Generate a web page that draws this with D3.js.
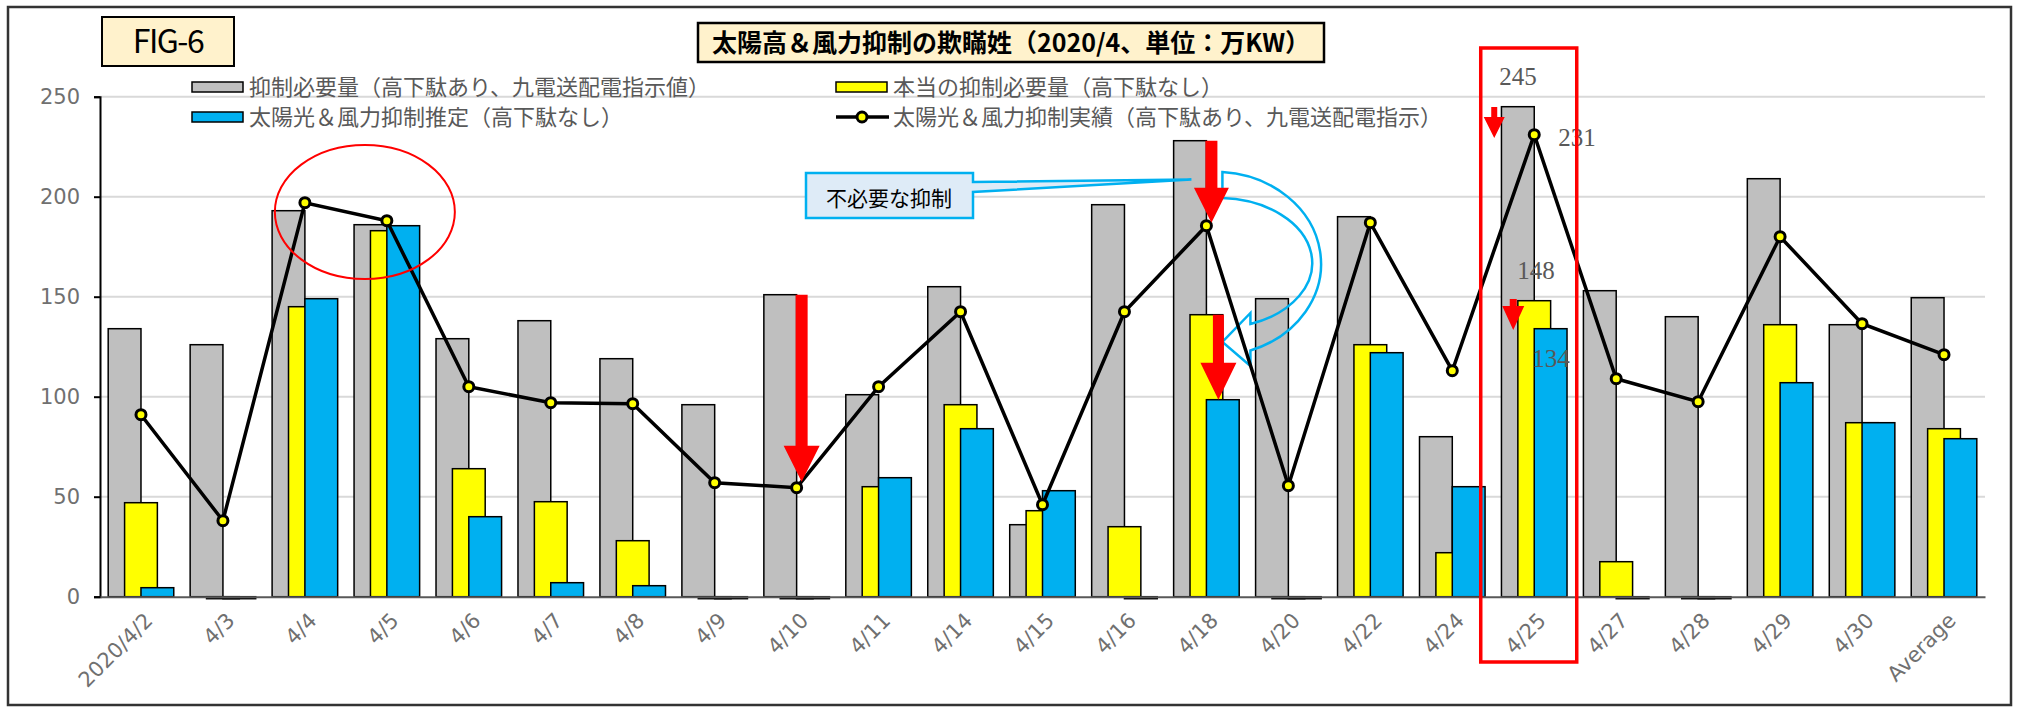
<!DOCTYPE html>
<html><head><meta charset="utf-8">
<script src="https://cdn.jsdelivr.net/npm/d3@7"></script>
<style>html,body{margin:0;padding:0;background:#fff;}svg{display:block;}</style>
</head><body>
<svg id="chart" width="2017" height="708"></svg>
<script>
const categories = ["2020/4/2","4/3","4/4","4/5","4/6","4/7","4/8","4/9","4/10","4/11","4/14","4/15","4/16","4/18","4/20","4/22","4/24","4/25","4/27","4/28","4/29","4/30","Average"];
const grayValues   = [134,126,193,186,129,138,119,96,151,101,155,36,196,228,149,190,80,245,153,140,209,136,149.5];
const yellowValues = [47,-1,145,183,64,47.5,28,-1,-1,55,96,43,35,141,-1,126,22,148,17.5,-1,136,87,84];
const blueValues   = [4.5,-1,149,185.5,40,7,5.5,-1,-1,59.5,84,53,-1,98.5,-1,122,55,134,-1,-1,107,87,79];
const lineValues   = [91,38,197,188,105,97,96.5,57,54.5,105,142.5,46,142.5,185.5,55.5,187,113,231,109,97.5,180,136.5,121];
const yTicks = [0,50,100,150,200,250];
const seriesNames = ["抑制必要量（高下駄あり、九電送配電指示値）","本当の抑制必要量（高下駄なし）","太陽光＆風力抑制推定（高下駄なし）","太陽光＆風力抑制実績（高下駄あり、九電送配電指示）"];
const titleText = "太陽高＆風力抑制の欺瞞姓（2020/4、単位：万KW）";
const figLabel = "FIG-6";
const calloutText = "不必要な抑制";
const valueNotes = [{cat:"4/25", text:"245"},{cat:"4/25", text:"231"},{cat:"4/25", text:"148"},{cat:"4/25", text:"134"}];

const svg = d3.select("#chart");
const jp = "'Noto Sans CJK JP','Noto Sans',sans-serif";
const axisFont = "'DejaVu Sans','Liberation Sans',sans-serif";

// outer border
svg.append("rect").attr("x",8).attr("y",7).attr("width",2003).attr("height",698)
  .attr("fill","#fff").attr("stroke","#333").attr("stroke-width",2.5);

const x = d3.scaleBand().domain(categories).range([100,1985]).paddingInner(0).paddingOuter(0);
const y = d3.scaleLinear().domain([0,250]).range([596.7,96.7]);
const step = x.step();
const bw = step*0.4;
const cx = c => x(c) + step/2;

// gridlines
svg.append("g").selectAll("line").data(yTicks.filter(d=>d>0)).join("line")
  .attr("x1",100).attr("x2",1985).attr("y1",d=>y(d)).attr("y2",d=>y(d))
  .attr("stroke","#D9D9D9").attr("stroke-width",2);

// y axis
const yAxis = d3.axisLeft(y).tickValues(yTicks).tickSize(6).tickPadding(14);
const gy = svg.append("g").attr("transform","translate(100,0)").call(yAxis);
gy.select(".domain").attr("stroke","#000").attr("stroke-width",2);
gy.selectAll(".tick line").attr("stroke","#000").attr("stroke-width",2);
gy.selectAll(".tick text").attr("font-family",axisFont).attr("font-size",21).attr("fill","#707070");

// bars
const bars = svg.append("g");
function drawBars(vals, off, fill){
  bars.append("g").selectAll("rect").data(categories.map((c,i)=>({c,v:vals[i]}))).join("rect")
    .attr("x",d=>cx(d.c)+off*bw).attr("width",bw)
    .attr("y",d=>Math.min(y(d.v),y(0))).attr("height",d=>Math.abs(y(d.v)-y(0)))
    .attr("fill",fill).attr("stroke","#000").attr("stroke-width",1.5);
}
drawBars(grayValues,-1,"#BFBFBF");
drawBars(yellowValues,-0.5,"#FFFF00");
drawBars(blueValues,0,"#00B0F0");

// x axis
const xAxis = d3.axisBottom(x).tickSize(0).tickPadding(10);
const gx = svg.append("g").attr("transform",`translate(0,${y(0)})`).call(xAxis);
gx.select(".domain").attr("stroke","#595959").attr("stroke-width",2);
gx.selectAll(".tick text").attr("font-family",axisFont).attr("font-size",21).attr("fill","#707070")
  .attr("text-anchor","end").attr("dy",0)
  .attr("transform","translate(6,18) rotate(-45)");

// annotations under line: curved arrow & callout
const cx18 = cx("4/18");
svg.append("path")
  .attr("d",`M${cx18+16},172 A106 92 0 0 1 ${cx18+44},350.5 L${cx18+44},366 L${cx18+16},342 L${cx18+44},313 L${cx18+44},324 A94 65 0 0 0 ${cx18+16},198 Z`)
  .attr("fill","none").attr("stroke","#00B0F0").attr("stroke-width",2.5);

// callout
svg.append("path")
  .attr("d",`M806,173 L973,173 L973,182 L${cx18-15},179.5 L973,192 L973,218 L806,218 Z`)
  .attr("fill","#DEEBF7").attr("stroke","#00B0F0").attr("stroke-width",2.5);
svg.append("text").attr("x",889).attr("y",206).attr("text-anchor","middle")
  .attr("font-family",jp).attr("font-size",21).attr("fill","#000").text(calloutText);

// line series
const pts = categories.map((c,i)=>[cx(c), y(lineValues[i])]);
svg.append("path").attr("d",d3.line()(pts)).attr("fill","none").attr("stroke","#000").attr("stroke-width",3.5);
svg.append("g").selectAll("circle").data(pts).join("circle")
  .attr("cx",d=>d[0]).attr("cy",d=>d[1]).attr("r",5)
  .attr("fill","#FFFF00").attr("stroke","#000").attr("stroke-width",3);

// red arrows
function arrow(xc, y1, y2, sw, hw, hh){
  const p = `M${xc-sw/2},${y1} L${xc+sw/2},${y1} L${xc+sw/2},${y2-hh} L${xc+hw/2},${y2-hh} L${xc},${y2} L${xc-hw/2},${y2-hh} L${xc-sw/2},${y2-hh} Z`;
  svg.append("path").attr("d",p).attr("fill","#FF0000");
}
arrow(cx("4/10")+5, y(151), y(54.5)-6, 12, 36, 36);
arrow(cx18+5, y(228), y(185.5)-3, 12, 35, 35);
arrow(cx18+12, y(141), y(98.5), 11, 36, 37);
const cx25 = cx("4/25");
arrow(cx25-40, 107, 138, 6, 21, 21);
arrow(cx25-21, 299, 330, 7, 22, 24);

// value notes 4/25
const noteFont = "'Liberation Serif','DejaVu Serif',serif";
const notePos = [[cx25-35,85],[cx25+24,146],[cx25-17,279],[cx25-2,367]];
valueNotes.forEach((n,i)=>{
  svg.append("text").attr("x",notePos[i][0]).attr("y",notePos[i][1])
    .attr("font-family",noteFont).attr("font-size",25).attr("fill","#595959").text(n.text);
});

// red rectangle
svg.append("rect").attr("x",cx25-53.5).attr("y",48).attr("width",96).attr("height",614)
  .attr("fill","none").attr("stroke","#FF0000").attr("stroke-width",3.5);

// red ellipse
svg.append("ellipse").attr("cx",cx("4/5")-22).attr("cy",212).attr("rx",90).attr("ry",67)
  .attr("fill","none").attr("stroke","#FF0000").attr("stroke-width",2);

// FIG box
svg.append("rect").attr("x",102).attr("y",17).attr("width",132).attr("height",49)
  .attr("fill","#FFF2CC").attr("stroke","#000").attr("stroke-width",2);
svg.append("text").attr("x",168).attr("y",53).attr("text-anchor","middle")
  .attr("font-family",jp).attr("font-size",32).attr("fill","#000").attr("letter-spacing",-1.5).text(figLabel);

// title
svg.append("rect").attr("x",698).attr("y",23).attr("width",626).attr("height",39)
  .attr("fill","#FFF2CC").attr("stroke","#000").attr("stroke-width",2.5);
svg.append("text").attr("x",1011).attr("y",52).attr("text-anchor","middle")
  .attr("font-family",jp).attr("font-weight",700).attr("font-size",25).attr("fill","#000").text(titleText);

// legend
const lg = svg.append("g").attr("font-family",jp).attr("font-size",22).attr("fill","#595959");
const legendItems = [
  {x:192, y:87, type:"bar", fill:"#BFBFBF", name:seriesNames[0]},
  {x:836, y:87, type:"bar", fill:"#FFFF00", name:seriesNames[1]},
  {x:192, y:117, type:"bar", fill:"#00B0F0", name:seriesNames[2]},
  {x:836, y:117, type:"line", name:seriesNames[3]}
];
legendItems.forEach(it=>{
  if(it.type==="bar"){
    lg.append("rect").attr("x",it.x).attr("y",it.y-5).attr("width",51).attr("height",10)
      .attr("fill",it.fill).attr("stroke","#000").attr("stroke-width",1.5);
  } else {
    lg.append("line").attr("x1",it.x).attr("x2",it.x+53).attr("y1",it.y).attr("y2",it.y)
      .attr("stroke","#000").attr("stroke-width",3.5);
    lg.append("circle").attr("cx",it.x+26).attr("cy",it.y).attr("r",5)
      .attr("fill","#FFFF00").attr("stroke","#000").attr("stroke-width",3);
  }
  lg.append("text").attr("x",it.x+57).attr("y",it.y+8).text(it.name);
});
</script>
</body></html>
